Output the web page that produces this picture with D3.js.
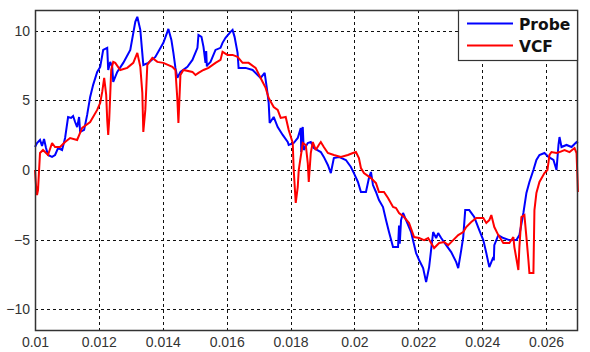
<!DOCTYPE html>
<html>
<head>
<meta charset="utf-8">
<script src="https://cdn.jsdelivr.net/npm/d3@7"></script>
<style>
  html, body { margin: 0; padding: 0; background: #fff; }
  svg { display: block; }
</style>
</head>
<body>
<svg id="chart" width="590" height="352"></svg>
<script>
// Time axis ticks (s) and value ticks
const xTicks = [0.01, 0.012, 0.014, 0.016, 0.018, 0.02, 0.022, 0.024, 0.026];
const yTicks = [-10, -5, 0, 5, 10];

// Probe measurement: [time (s), value]
const probe = [
  [0.010000,1.65],[0.010063,1.94],[0.010157,2.16],[0.010220,1.73],[0.010283,2.23],[0.010345,1.58],
  [0.010408,1.08],[0.010534,0.94],[0.010628,1.08],[0.010722,1.58],[0.010848,1.44],[0.010942,2.30],
  [0.011036,3.81],[0.011130,3.74],[0.011193,3.88],[0.011256,3.45],[0.011319,3.09],[0.011381,3.81],
  [0.011413,2.73],[0.011538,2.88],[0.011633,3.96],[0.011727,5.25],[0.011821,6.12],[0.011947,7.05],
  [0.012041,7.41],[0.012135,8.63],[0.012261,8.78],[0.012292,7.19],[0.012355,7.77],[0.012418,7.41],
  [0.012449,6.33],[0.012575,7.05],[0.012763,7.70],[0.012983,8.63],[0.013140,10.65],[0.013203,11.01],
  [0.013297,10.07],[0.013391,7.55],[0.013548,7.70],[0.013768,8.13],[0.014019,9.14],[0.014144,9.93],
  [0.014176,10.14],[0.014270,9.35],[0.014333,8.42],[0.014396,7.34],[0.014458,6.62],[0.014553,7.05],
  [0.014772,7.41],[0.014929,7.91],[0.015086,8.78],[0.015118,9.71],[0.015212,9.57],[0.015275,8.85],
  [0.015338,7.70],[0.015360,8.55],[0.015380,7.45],[0.015400,7.55],[0.015495,7.77],[0.015651,8.63],
  [0.015808,8.78],[0.015871,9.14],[0.015965,9.50],[0.016122,9.93],[0.016185,10.07],[0.016248,9.57],
  [0.016342,8.42],[0.016374,7.34],[0.016593,7.34],[0.016813,7.19],[0.016970,6.83],[0.017064,6.62],
  [0.017190,6.98],[0.017253,5.97],[0.017316,4.82],[0.017347,3.38],[0.017473,3.81],[0.017598,3.09],
  [0.017755,2.52],[0.017912,2.01],[0.017943,1.80],[0.018100,1.94],[0.018226,2.30],[0.018320,3.02],
  [0.018336,1.29],[0.018352,2.88],[0.018383,3.09],[0.018414,1.44],[0.018540,1.94],[0.018634,2.01],
  [0.018728,1.58],[0.018948,1.29],[0.019042,0.94],[0.019168,0.36],[0.019262,-0.22],[0.019356,0.86],
  [0.019513,0.94],[0.019733,0.72],[0.019890,0.22],[0.019984,-0.22],[0.020110,-0.86],[0.020204,-1.58],
  [0.020361,-1.58],[0.020455,-0.58],[0.020518,-0.14],[0.020581,-1.08],[0.020675,-1.58],[0.020769,-2.16],
  [0.020895,-2.66],[0.020989,-3.60],[0.021083,-4.46],[0.021209,-5.54],[0.021366,-5.54],[0.021397,-4.00],
  [0.021420,-5.30],[0.021460,-3.60],[0.021523,-3.09],[0.021617,-3.60],[0.021774,-4.46],[0.021931,-5.97],
  [0.022025,-6.47],[0.022151,-7.05],[0.022245,-8.06],[0.022339,-6.98],[0.022465,-4.46],[0.022559,-4.89],
  [0.022622,-4.53],[0.022716,-4.89],[0.022873,-5.40],[0.023030,-5.90],[0.023187,-6.62],[0.023250,-7.05],
  [0.023344,-5.76],[0.023407,-4.82],[0.023469,-2.88],[0.023595,-2.88],[0.023752,-3.38],[0.023909,-4.32],
  [0.024035,-5.04],[0.024129,-5.97],[0.024223,-6.98],[0.024349,-6.26],[0.024365,-6.50],[0.024380,-5.40],
  [0.024505,-4.68],[0.024662,-4.89],[0.024851,-5.04],[0.025071,-5.04],[0.025165,-4.68],[0.025290,-3.09],
  [0.025385,-1.65],[0.025479,-0.86],[0.025604,0.00],[0.025698,0.72],[0.025793,1.08],[0.025950,1.22],
  [0.026075,0.94],[0.026232,0.72],[0.026327,0.00],[0.026389,1.80],[0.026421,2.37],[0.026484,1.65],
  [0.026641,1.80],[0.026798,1.65],[0.026954,2.01],[0.026998,1.94]
];

// VCF estimate: [time (s), value]
const vcf = [
  [0.010000,0.00],[0.010031,-1.08],[0.010063,-1.80],[0.010094,-1.44],[0.010157,1.22],[0.010251,1.44],
  [0.010408,1.08],[0.010534,1.94],[0.010628,1.65],[0.010785,1.65],[0.010942,2.01],[0.011099,2.30],
  [0.011319,2.16],[0.011476,3.02],[0.011727,3.45],[0.011947,4.32],[0.012041,4.82],[0.012104,5.61],
  [0.012166,6.62],[0.012229,5.40],[0.012261,3.60],[0.012292,2.52],[0.012323,3.60],[0.012386,7.19],
  [0.012449,7.77],[0.012512,7.70],[0.012669,7.19],[0.012889,7.34],[0.013077,7.70],[0.013203,8.42],
  [0.013297,7.41],[0.013360,5.54],[0.013391,2.73],[0.013454,4.32],[0.013516,7.55],[0.013673,8.06],
  [0.013830,7.77],[0.014019,7.70],[0.014301,7.41],[0.014396,7.19],[0.014458,5.04],[0.014490,3.38],
  [0.014553,6.83],[0.014647,7.19],[0.014929,7.05],[0.015024,6.83],[0.015118,6.98],[0.015275,7.19],
  [0.015432,7.34],[0.015651,7.70],[0.015808,7.91],[0.015871,8.49],[0.016028,8.27],[0.016185,8.27],
  [0.016342,8.13],[0.016499,7.70],[0.016688,7.70],[0.016907,7.34],[0.017127,6.33],[0.017221,5.90],
  [0.017316,5.18],[0.017473,4.53],[0.017598,4.32],[0.017692,3.74],[0.017849,3.81],[0.017943,2.88],
  [0.018069,1.94],[0.018100,0.00],[0.018163,-2.37],[0.018226,-1.22],[0.018257,0.00],[0.018383,1.94],
  [0.018477,1.80],[0.018540,0.50],[0.018571,-0.86],[0.018634,1.22],[0.018697,2.01],[0.018791,1.44],
  [0.018885,1.80],[0.018948,2.01],[0.019042,1.65],[0.019168,1.22],[0.019356,1.08],[0.019576,0.94],
  [0.019796,1.08],[0.019953,1.22],[0.020047,1.29],[0.020141,0.86],[0.020204,0.14],[0.020298,-0.22],
  [0.020518,-0.58],[0.020675,-0.94],[0.020769,-1.58],[0.020926,-1.58],[0.021052,-2.01],[0.021209,-2.66],
  [0.021303,-2.73],[0.021397,-3.09],[0.021554,-3.38],[0.021711,-3.81],[0.021868,-4.82],[0.022025,-4.89],
  [0.022182,-5.04],[0.022308,-4.89],[0.022402,-5.25],[0.022496,-5.61],[0.022653,-5.25],[0.022810,-5.18],
  [0.022936,-5.40],[0.023093,-5.04],[0.023250,-4.68],[0.023407,-4.46],[0.023501,-4.10],[0.023658,-3.74],
  [0.023815,-3.45],[0.024035,-3.45],[0.024129,-3.81],[0.024223,-3.60],[0.024286,-3.24],[0.024380,-4.10],
  [0.024505,-4.68],[0.024662,-5.25],[0.024851,-5.25],[0.024976,-4.82],[0.025008,-5.54],[0.025133,-7.19],
  [0.025165,-5.54],[0.025228,-3.38],[0.025322,-3.24],[0.025385,-4.82],[0.025447,-6.47],[0.025479,-7.41],
  [0.025604,-7.41],[0.025636,-2.88],[0.025698,-1.65],[0.025793,-0.86],[0.025950,-0.22],[0.026044,0.00],
  [0.026107,1.08],[0.026170,1.29],[0.026327,1.22],[0.026421,1.29],[0.026578,1.44],[0.026735,1.29],
  [0.026892,1.58],[0.026954,1.22],[0.026986,-0.72],[0.026998,-1.58]
];

const seriesNames = ["Probe", "VCF"];
const seriesColors = ["#0000ff", "#ff0000"];

const svg = d3.select("#chart");
const plotL = 35, plotR = 578, plotT = 10, plotB = 330;

const x = d3.scaleLinear().domain([0.01, 0.027]).range([plotL, plotR]);
const y = d3.scaleLinear().domain([-11.5, 11.5]).range([plotB, plotT]);

// plot background
svg.append("rect").attr("x", plotL).attr("y", plotT)
  .attr("width", plotR - plotL).attr("height", plotB - plotT).attr("fill", "#fff");

// dashed grid
const grid = svg.append("g").attr("stroke", "#111").attr("stroke-width", 1)
  .attr("stroke-dasharray", "3,3");
grid.selectAll("line.gx").data(xTicks.slice(1)).join("line").attr("class", "gx")
  .attr("x1", d => Math.round(x(d)) + 0.5).attr("x2", d => Math.round(x(d)) + 0.5)
  .attr("y1", plotT).attr("y2", plotB);
grid.selectAll("line.gy").data(yTicks).join("line").attr("class", "gy")
  .attr("y1", d => Math.round(y(d)) + 0.5).attr("y2", d => Math.round(y(d)) + 0.5)
  .attr("x1", plotL).attr("x2", plotR);

// data lines
const line = d3.line().x(d => x(d[0])).y(d => y(d[1]));
const plot = svg.append("g");
[probe, vcf].forEach((s, i) => {
  plot.append("path").datum(s).attr("d", line)
    .attr("fill", "none").attr("stroke", seriesColors[i])
    .attr("stroke-width", 2).attr("stroke-linejoin", "miter").attr("stroke-miterlimit", 2);
});

// frame
svg.append("rect").attr("x", plotL + 0.5).attr("y", plotT + 0.5)
  .attr("width", plotR - plotL - 1).attr("height", plotB - plotT)
  .attr("fill", "none").attr("stroke", "#333").attr("stroke-width", 1.5);

// axes
const fmt = d => String(+d.toFixed(3));
const xAxis = svg.append("g").attr("transform", `translate(0,${plotB})`)
  .call(d3.axisBottom(x).tickValues(xTicks).tickFormat(fmt).tickSize(0).tickPadding(7));
const yAxis = svg.append("g").attr("transform", `translate(${plotL},0)`)
  .call(d3.axisLeft(y).tickValues(yTicks).tickSize(0).tickPadding(5));
[xAxis, yAxis].forEach(a => {
  a.select(".domain").remove();
  a.selectAll("text").attr("font-family", "Liberation Sans, Arial, sans-serif")
    .attr("font-size", 14).attr("fill", "#333");
});

// legend
const lg = svg.append("g");
lg.append("rect").attr("x", 458.5).attr("y", 10.5).attr("width", 119).attr("height", 50)
  .attr("fill", "#fff").attr("stroke", "#333").attr("stroke-width", 1.2);
seriesNames.forEach((name, i) => {
  const cy = 23.5 + i * 22;
  lg.append("line").attr("x1", 467).attr("x2", 513).attr("y1", cy).attr("y2", cy)
    .attr("stroke", seriesColors[i]).attr("stroke-width", 2);
  lg.append("text").attr("x", 519).attr("y", cy + 6).text(name)
    .attr("font-family", "DejaVu Sans, sans-serif").attr("font-weight", "bold")
    .attr("font-size", 15.5).attr("fill", "#111");
});
</script>
</body>
</html>
